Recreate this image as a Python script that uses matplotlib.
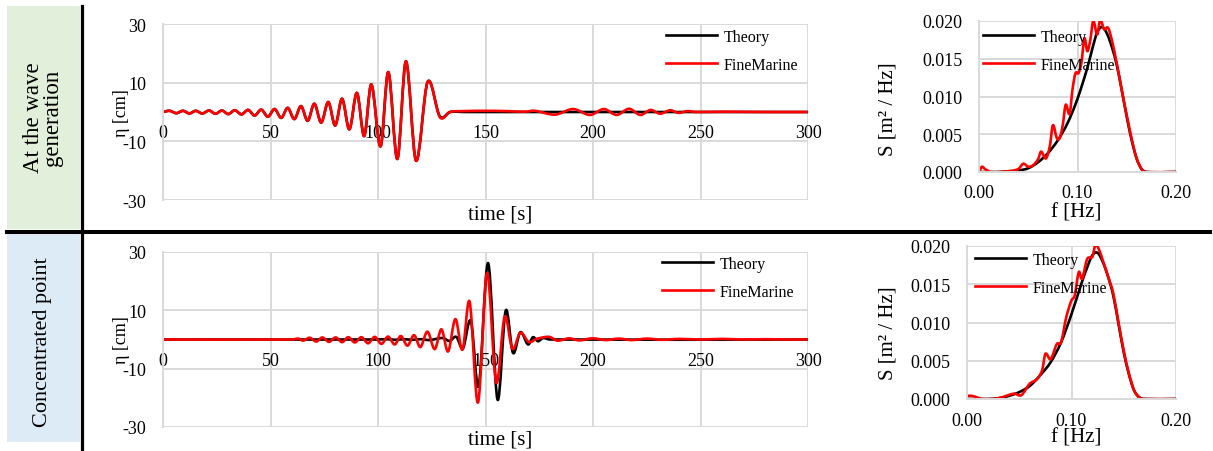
import matplotlib
matplotlib.use("Agg")
import matplotlib.pyplot as plt
from matplotlib.patches import Rectangle, PathPatch
from matplotlib.lines import Line2D
from matplotlib.path import Path

plt.rcParams["font.family"] = ["Liberation Serif", "DejaVu Serif"]
plt.rcParams["axes.unicode_minus"] = False

# --- wave elevation at the wave generation (crests / troughs)
t_gen = [0, 3.1, 6.2, 9.3, 12.3, 15.2, 18.3, 21.4, 24.4, 27.4, 30.4, 33.4, 36.5, 39.6,
         42.6, 45.7, 48.8, 51.9, 55.0, 58.0, 61.1, 64.2, 67.3, 70.4, 73.6, 76.9, 80.1,
         83.3, 86.7, 90.2, 93.6, 96.9, 101.2, 104.8, 109.0, 113.0, 117.7, 123.1, 128.8,
         133.5, 140, 150, 160, 168, 173, 182.3, 190.8, 198.6, 205.1, 211.0, 216.8, 222.0,
         226.8, 231.2, 235.9, 239.7, 243.9, 248, 260, 280, 300]
gen_theory = [0, 0.4, -0.4, 0.4, -0.5, 0.4, -0.5, 0.5, -0.6, 0.5, -0.7, 0.6, -0.8, 0.7,
              -1.2, 0.8, -1.6, 1.0, -2.0, 1.4, -2.4, 2.0, -3.0, 2.8, -3.6, 3.4, -4.6,
              4.5, -5.9, 6.5, -8.2, 9.4, -11.7, 13.6, -16.0, 17.3, -16.6, 10.3, -1.5,
              0, 0, 0, 0, 0, 0, 0, 0, 0, 0, 0, 0, 0,
              0, 0, 0, 0, 0, 0, 0, 0, 0]
gen_fm = [0, 0.4, -0.4, 0.4, -0.5, 0.4, -0.5, 0.5, -0.6, 0.5, -0.7, 0.6, -0.8, 0.7,
          -1.2, 0.8, -1.6, 1.0, -2.0, 1.4, -2.4, 2.0, -3.0, 2.8, -3.6, 3.4, -4.6,
          4.5, -5.9, 6.5, -8.2, 9.4, -11.7, 13.6, -16.0, 17.3, -16.6, 10.3, -1.8,
          0.0, 0.3, 0.4, 0.3, 0.1, 0.4, -0.9, 1.0, -1.0, 1.0, -1.0, 1.1, -1.0,
          0.7, -0.6, 0.6, -0.3, 0.3, 0.0, 0.1, 0.0, 0.0]

# --- wave elevation at the concentrated point
t_conc_theory = [0, 100, 104, 108, 112, 116, 120, 124, 127, 130.2, 133.3, 136.4, 139.5,
                 143.2, 146.8, 151.2, 155.6, 159.4, 162.8, 166.2, 169.8, 172.1, 174.4,
                 176.7, 180, 300]
conc_theory = [0, 0, 0.1, -0.1, 0.1, -0.1, 0.1, -0.2, 0.2, 0.5, -0.5, 0.9, -3.0,
               6.3, -16.0, 26.2, -20.6, 9.9, -4.6, 2.5, -1.7, 0.8, -0.6,
               0.5, 0, 0]
t_conc_fm = [0, 60, 63, 65.2, 68.2, 71.3, 74.1, 77.2, 80.3, 83.3, 86.2, 89.2, 92.3, 95.4,
             98.5, 101.6, 104.7, 107.8, 110.6, 113.7, 116.8, 119.7, 123.0, 126.4, 129.5,
             132.6, 136.0, 139.3, 142.6, 146.5, 150.7, 155.0, 158.9, 162.5, 166.2, 170.2,
             173.7, 179.7, 183.5, 188.9, 193.5, 199.8, 206, 212, 218, 225, 232, 240, 250,
             260, 270, 280, 290, 300]
conc_fm = [0, 0, 0.3, -0.4, 0.6, -0.7, 0.7, -0.8, 0.7, -0.9, 0.8, -1.0, 0.8, -1.3,
           0.9, -1.5, 1.0, -1.7, 1.2, -2.1, 1.5, -2.6, 2.7, -3.3, 3.5,
           -4.1, 7.0, -3.5, 13.0, -21.6, 22.8, -14.8, 7.8, -3.2, 2.3, -0.9,
           0.2, 0.9, -0.4, 0.4, -0.3, 0.4, -0.2, 0.3, -0.2, 0.3, -0.1, 0.2, 0.0,
           0.2, 0.0, 0.1, 0.0, 0.0]

# --- spectra
f_theory = [0, 0.02, 0.03, 0.04, 0.05, 0.06, 0.07, 0.08, 0.09, 0.10, 0.11, 0.115, 0.12,
            0.125, 0.13, 0.135, 0.14, 0.145, 0.15, 0.155, 0.16, 0.165, 0.17, 0.2]
S_gen_theory = [0, 0, 0.0001, 0.0002, 0.0005, 0.0013, 0.0025, 0.0042, 0.0065, 0.0097,
                0.0138, 0.0163, 0.0185, 0.0192, 0.0183, 0.0165, 0.0141, 0.0108, 0.0073,
                0.0042, 0.0018, 0.0004, 0, 0]
S_conc_theory = [0, 0, 0.0001, 0.0004, 0.0009, 0.0017, 0.0031, 0.0048, 0.0074, 0.0111,
                 0.0153, 0.0172, 0.0188, 0.0191, 0.0179, 0.0160, 0.0135, 0.0098, 0.0061,
                 0.0032, 0.0011, 0.0002, 0, 0]
f_gen_fm = [0, 0.003, 0.006, 0.012, 0.03, 0.04, 0.045, 0.05, 0.055, 0.06, 0.063, 0.068,
            0.072, 0.075, 0.079, 0.082, 0.085, 0.088, 0.092, 0.095, 0.098, 0.101, 0.104,
            0.107, 0.110, 0.113, 0.116, 0.12, 0.123, 0.127, 0.131, 0.135, 0.14, 0.145,
            0.15, 0.155, 0.16, 0.166, 0.17, 0.2]
S_gen_fm = [0, 0.0007, 0.0004, 0, 0.0001, 0.0004, 0.0011, 0.0007, 0.0009, 0.0017, 0.0027,
            0.0018, 0.0035, 0.0062, 0.0045, 0.0045, 0.0062, 0.0089, 0.0077, 0.0110,
            0.0131, 0.0131, 0.0145, 0.0177, 0.0160, 0.0175, 0.0200, 0.0182, 0.0202,
            0.0189, 0.0191, 0.0174, 0.0143, 0.0108, 0.0075, 0.0044, 0.0018, 0.0002, 0, 0]
f_conc_fm = [0, 0.005, 0.015, 0.03, 0.045, 0.052, 0.06, 0.067, 0.072, 0.075, 0.08, 0.086,
             0.09, 0.095, 0.1, 0.103, 0.107, 0.11, 0.115, 0.12, 0.123, 0.127, 0.13, 0.135,
             0.14, 0.145, 0.15, 0.155, 0.16, 0.166, 0.17, 0.2]
S_conc_fm = [0.0004, 0.0004, 0, 0.0001, 0.0007, 0.0005, 0.002, 0.0026, 0.0038, 0.0059,
             0.0052, 0.0072, 0.0074, 0.0107, 0.0129, 0.0135, 0.0166, 0.0157, 0.0183,
             0.0186, 0.0202, 0.0193, 0.0181, 0.0160, 0.0138, 0.0100, 0.0063, 0.0033,
             0.0011, 0.0001, 0, 0]

row_titles = ["At the wave\ngeneration", "Concentrated point"]
series_names = ["Theory", "FineMarine"]
series_colors = ["black", "red"]

W, H = 1213, 452
fig = plt.figure(figsize=(W / 100, H / 100), dpi=100)
grid_col = "#d9d9d9"
LW = 1.9


def fx(px):
    return px / W


def fy(py):
    return 1 - py / H


def box(left, top, right, bottom):
    return [fx(left), fy(bottom), fx(right) - fx(left), fy(top) - fy(bottom)]


def smooth_line(ax, x, y, color):
    # Excel style "smoothed line": cubic Bezier segments through the data points
    n = len(x)
    slopes = []
    for i in range(n):
        a = max(i - 1, 0)
        b = min(i + 1, n - 1)
        slopes.append((y[b] - y[a]) / (x[b] - x[a]))
    verts = [(x[0], y[0])]
    codes = [Path.MOVETO]
    for i in range(n - 1):
        h = (x[i + 1] - x[i]) / 3
        verts += [(x[i] + h, y[i] + slopes[i] * h),
                  (x[i + 1] - h, y[i + 1] - slopes[i + 1] * h),
                  (x[i + 1], y[i + 1])]
        codes += [Path.CURVE4] * 3
    ax.add_patch(PathPatch(Path(verts, codes), facecolor="none", edgecolor=color,
                           lw=LW, joinstyle="round", capstyle="round"))


def style_common(ax):
    ax.grid(True, color=grid_col, lw=1.4)
    ax.set_axisbelow(True)
    ax.spines["top"].set_visible(False)
    ax.spines["right"].set_visible(False)
    ax.spines["left"].set_color(grid_col)
    ax.spines["left"].set_linewidth(1.4)
    ax.tick_params(length=0, labelsize=13)
    ax.tick_params(axis="y", pad=12)


def add_legend(ax, x, y):
    handles = [Line2D([], [], color=c, lw=LW) for c in series_colors]
    ax.legend(handles, series_names, loc="upper left", bbox_to_anchor=(fx(x), fy(y)),
              bbox_transform=fig.transFigure, frameon=False, fontsize=11.5,
              handlelength=3.2, handletextpad=0.4, labelspacing=0.75,
              borderpad=0, borderaxespad=0)


# ---- time series
wave_axes = []
for top, bottom in [(25, 201), (253, 428)]:
    ax = fig.add_axes(box(163, top, 808, bottom))
    ax.set_xlim(0, 300)
    ax.set_ylim(-30, 30)
    ax.set_xticks(range(0, 301, 50))
    ax.set_yticks([-30, -10, 10, 30])
    style_common(ax)
    ax.spines["bottom"].set_position(("data", 0))
    ax.spines["bottom"].set_visible(False)
    ax.tick_params(axis="x", pad=9)
    wave_axes.append(ax)

smooth_line(wave_axes[0], t_gen, gen_theory, "black")
smooth_line(wave_axes[0], t_gen, gen_fm, "red")
smooth_line(wave_axes[1], t_conc_theory, conc_theory, "black")
smooth_line(wave_axes[1], t_conc_fm, conc_fm, "red")
add_legend(wave_axes[0], 666, 30)
add_legend(wave_axes[1], 662, 257)

# ---- spectra
spec_axes = []
for left, top, bottom in [(979, 22, 173), (967, 247, 400)]:
    ax = fig.add_axes(box(left, top, 1176, bottom))
    ax.set_xlim(0, 0.2)
    ax.set_ylim(0, 0.02)
    ax.set_xticks([0, 0.1, 0.2])
    ax.set_xticklabels(["0.00", "0.10", "0.20"])
    ax.set_yticks([0, 0.005, 0.01, 0.015, 0.02])
    ax.set_yticklabels(["0.000", "0.005", "0.010", "0.015", "0.020"])
    style_common(ax)
    ax.spines["bottom"].set_color(grid_col)
    ax.spines["bottom"].set_linewidth(1.4)
    ax.tick_params(axis="x", pad=9)
    spec_axes.append(ax)

smooth_line(spec_axes[0], f_theory, S_gen_theory, "black")
smooth_line(spec_axes[0], f_gen_fm, S_gen_fm, "red")
smooth_line(spec_axes[1], f_theory, S_conc_theory, "black")
smooth_line(spec_axes[1], f_conc_fm, S_conc_fm, "red")
add_legend(spec_axes[0], 983, 30)
add_legend(spec_axes[1], 975, 253)

# ---- axis titles
for yc in [215, 440]:
    fig.text(fx(500), fy(yc), "time [s]", ha="center", va="center", fontsize=15)
    fig.text(fx(1076), fy(yc - 2), "f [Hz]", ha="center", va="center", fontsize=15)
for yc in [113, 340]:
    fig.text(fx(121), fy(yc), "η [cm]", ha="center", va="center", rotation=90, fontsize=13)
for yc in [109, 333]:
    fig.text(fx(888), fy(yc), "S [m² / Hz]", ha="center", va="center", rotation=90, fontsize=15)

# ---- row headers and frame lines
fig.add_artist(Rectangle((fx(7), fy(230)), fx(80) - fx(7), fy(7) - fy(230),
                         transform=fig.transFigure, facecolor="#e2efda", edgecolor="none"))
fig.add_artist(Rectangle((fx(7), fy(443)), fx(80) - fx(7), fy(235) - fy(443),
                         transform=fig.transFigure, facecolor="#ddebf7", edgecolor="none"))
fig.add_artist(Line2D([fx(81.5), fx(81.5)], [fy(7), fy(450)], transform=fig.transFigure,
                      color="black", lw=2.3))
fig.add_artist(Line2D([fx(7), fx(1210)], [fy(232.5), fy(232.5)], transform=fig.transFigure,
                      color="black", lw=2.9))
fig.text(fx(43), fy(118), row_titles[0], ha="center", va="center", rotation=90,
         fontsize=16.5, linespacing=0.9)
fig.text(fx(43), fy(342), row_titles[1], ha="center", va="center", rotation=90, fontsize=16)

fig.savefig("out.png", dpi=100)
